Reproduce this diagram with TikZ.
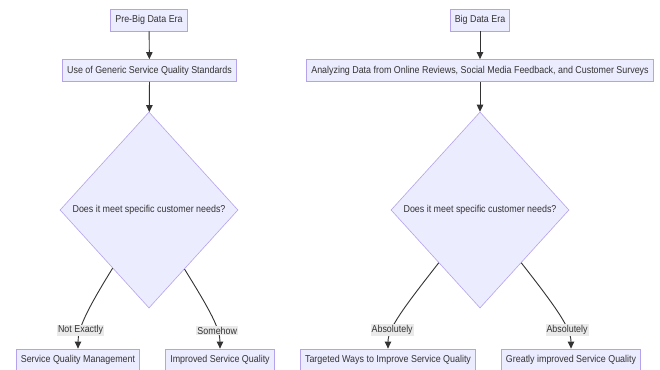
\documentclass[tikz,border=0pt]{standalone}
\usepackage{fontspec}
\setmainfont{Liberation Sans}[FakeStretch=0.89]
\usetikzlibrary{shapes.geometric,arrows.meta}
\definecolor{nodefill}{HTML}{ECECFF}
\definecolor{nodeline}{HTML}{B5A2EC}
\definecolor{ink}{HTML}{333333}
\definecolor{lblbg}{HTML}{EAEAEA}
\tikzset{
  procbox/.style={draw=nodeline, fill=nodefill, line width=0.8pt, text=ink,
    font=\fontsize{10}{12}\selectfont, inner xsep=4.5pt, inner ysep=0pt,
    minimum height=22pt},
  decision/.style={diamond, draw=nodeline, fill=nodefill, line width=0.6pt,
    text=ink, font=\fontsize{10}{12}\selectfont, inner sep=0pt, aspect=1,
    minimum width=178pt, minimum height=196pt},
  flow/.style={draw=ink, line width=0.9pt, -{Triangle[length=7pt,width=6.5pt]}},
  lbl/.style={fill=lblbg, text=ink, font=\fontsize{10}{12}\selectfont,
    inner xsep=1pt, inner ysep=1pt}
}
\begin{document}
\begin{tikzpicture}[x=1pt, y=-1pt]
\useasboundingbox (0,0) rectangle (660,369);
\fill[white] (0,0) rectangle (660,369);

% left branch: before big data
\node[procbox] (pre) at (149,20) {Pre-Big Data Era};
\node[procbox] (generic) at (149.5,70.5) {Use of Generic Service Quality Standards};
\node[decision] (q1) at (149,210) {Does it meet specific customer needs?};
\node[procbox] (sqm) at (78,360) {Service Quality Management};
\node[procbox] (isq) at (220,360) {Improved Service Quality};

\draw[flow] (pre) -- (generic);
\draw[flow] (generic) -- (q1);
\draw[flow] (q1.238.6) .. controls +(-26,42) and +(0,-20) .. node[lbl, pos=0.7] {Not Exactly} (sqm.north);
\draw[flow] (q1.301.4) .. controls +(26,42) and +(0,-20) .. node[lbl, pos=0.7] {Somehow} (isq.north);

% right branch: big data
\node[procbox] (big) at (480,20) {Big Data Era};
\node[procbox] (analyze) at (480,70.5) {Analyzing Data from Online Reviews, Social Media Feedback, and Customer Surveys};
\node[decision] (q2) at (480,210) {Does it meet specific customer needs?};
\node[procbox] (twi) at (388,360) {Targeted Ways to Improve Service Quality};
\node[procbox] (gisq) at (571,360) {Greatly improved Service Quality};

\draw[flow] (big) -- (analyze);
\draw[flow] (analyze) -- (q2);
\draw[flow] (q2.232.3) .. controls +(-36,46) and +(0,-20) .. node[lbl, pos=0.7] {Absolutely} (twi.north);
\draw[flow] (q2.308.4) .. controls +(36,46) and +(0,-20) .. node[lbl, pos=0.7] {Absolutely} (gisq.north);
\end{tikzpicture}
\end{document}
